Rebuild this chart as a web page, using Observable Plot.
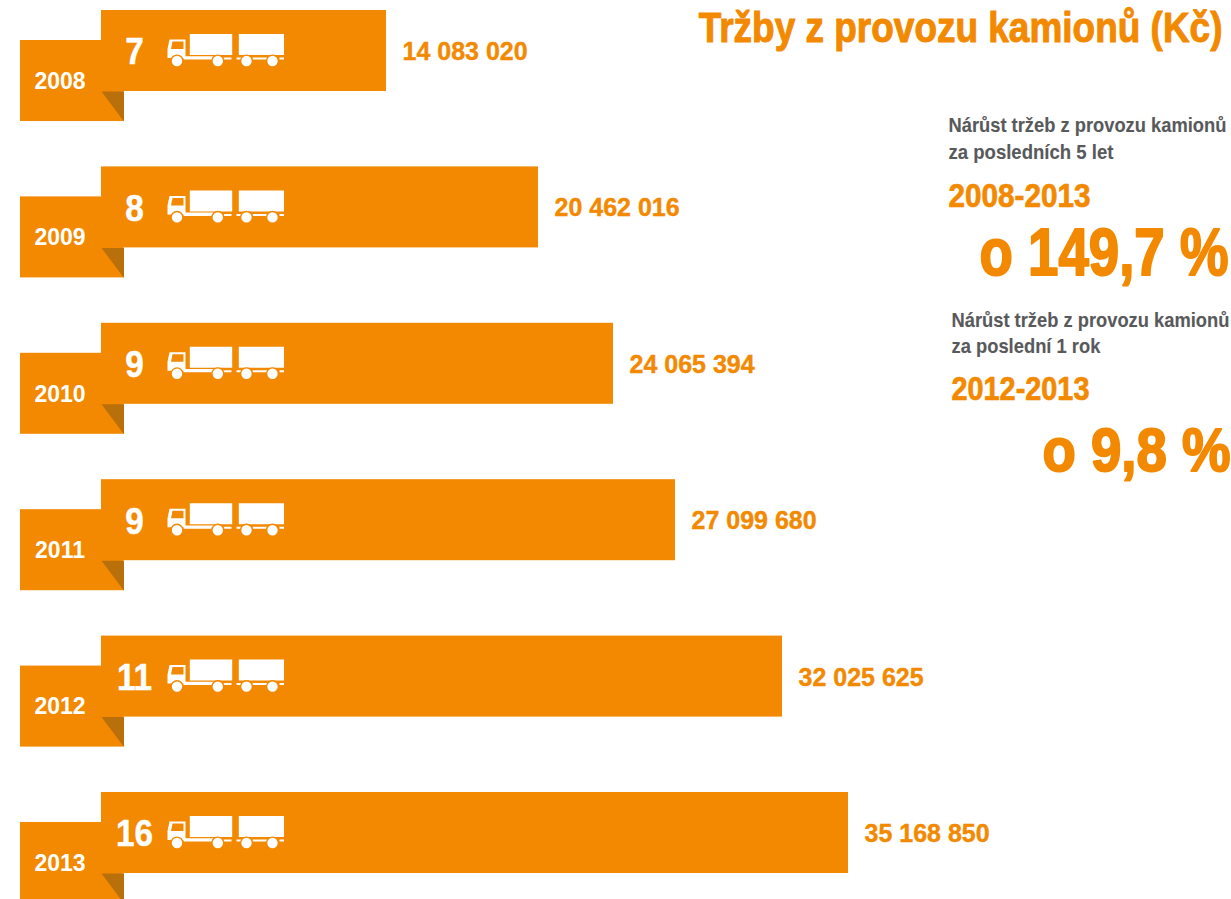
<!DOCTYPE html>
<html><head><meta charset="utf-8">
<script src="https://cdn.jsdelivr.net/npm/d3@7"></script>
<script src="https://cdn.jsdelivr.net/npm/@observablehq/plot@0.6"></script>
<style>html,body{margin:0;background:#fff}svg{display:block}</style>
</head><body><div id="chart"></div>
<script>
const years = ["2008","2009","2010","2011","2012","2013"];
const trucks = [7,8,9,9,11,16];
const revenue = [14083020,20462016,24065394,27099680,32025625,35168850];
const revenueLabels = ["14 083 020","20 462 016","24 065 394","27 099 680","32 025 625","35 168 850"];
const title = "Tržby z provozu kamionů (Kč)";
const noteA = ["Nárůst tržeb z provozu kamionů","za posledních 5 let","2008-2013","o 149,7 %"];
const noteB = ["Nárůst tržeb z provozu kamionů","za poslední 1 rok","2012-2013","o 9,8 %"];

const ORANGE = "#f28900", FOLD = "#b96f0a", GREY = "#58595b";
const FONT = "'Liberation Sans',Arial,sans-serif";
const rows = years.map((year,i)=>({year,count:trucks[i],value:revenue[i],label:revenueLabels[i]}));

// the reference bars are not strictly proportional, so x is a piecewise scale
const xDomain = [0,...revenue];
const xRange = [101,386,538,613,675,782,848];

// target rendered widths: the reference face is condensed, the installed one is not
const textWidths = new Map([
  [title,524],[noteA[1],165],[noteA[2],142],[noteA[3],249],
  [noteB[1],149],[noteB[2],138],[noteB[3],188],[noteA[0],278]
]);

const rect=(c,x,y,w,h)=>{c.moveTo(x,y);c.lineTo(x+w,y);c.lineTo(x+w,y+h);c.lineTo(x,y+h);c.closePath();};
const disc=(c,x,y,r)=>{c.moveTo(x+r,y);c.arc(x,y,r,0,2*Math.PI);c.closePath();};
const wheelAt=[[8.5,10],[49.3,10],[78,10],[104]].map(([x,y])=>[x,y??10]);
const foldSymbol = {draw(c){c.moveTo(0,0);c.lineTo(22.5,0);c.lineTo(22.5,30);c.closePath();}};
const truckSymbol = {draw(c){
  rect(c,21.3,-17,42.4,21); rect(c,70.3,-17,45.2,21);
  c.moveTo(1,-11.5);c.lineTo(17,-11.5);c.lineTo(17,7);c.lineTo(-1,7);c.lineTo(-1,-2);c.closePath();
  c.moveTo(4,-9.5);c.lineTo(2.5,-2);c.lineTo(15,-2);c.lineTo(15,-9.5);c.closePath();
  rect(c,15,5.2,37,3.3); rect(c,55,6.5,8,2); rect(c,68,6.5,6,2); rect(c,84,6.5,15,2); rect(c,111,6.5,4.5,2);
}};
const ringSymbol = {draw(c){wheelAt.forEach(([x,y])=>disc(c,x,y,6.6));}};
const wheelSymbol = {draw(c){wheelAt.forEach(([x,y])=>disc(c,x,y,5.2));}};

function note(text,dx,dy,size,fill,anchor="start",heavy=0.6){
  return Plot.text([text],{text:d=>d,frameAnchor:anchor==="end"?"top-right":"top-left",textAnchor:anchor,
    lineAnchor:"bottom",dx,dy,fontSize:size,fontWeight:"bold",fontFamily:FONT,fill,stroke:fill,strokeWidth:heavy});
}

const chart = Plot.plot({
  width:1231,height:899,margin:0,
  style:{background:"#fff"},
  x:{type:"linear",domain:xDomain,range:xRange,axis:null},
  y:{type:"band",domain:years,range:[10,873],paddingInner:0.482,paddingOuter:0,align:0,round:false,axis:null},
  marks:[
    Plot.barX(rows,{x1:0,x2:0,y:"year",dy:30,insetLeft:-81,insetRight:-22.5,fill:ORANGE}),
    Plot.dot(rows,{x:0,y:"year",dy:40.5,symbol:foldSymbol,fill:FOLD,stroke:null}),
    Plot.barX(rows,{x1:0,x2:"value",y:"year",fill:ORANGE}),
    Plot.dot(rows,{x:0,y:"year",dx:67,symbol:truckSymbol,fill:"#fff",stroke:null}),
    Plot.dot(rows,{x:0,y:"year",dx:67,symbol:ringSymbol,fill:ORANGE,stroke:null}),
    Plot.dot(rows,{x:0,y:"year",dx:67,symbol:wheelSymbol,fill:"#fff",stroke:null}),
    Plot.text(rows,{x:0,y:"year",text:"count",dx:33,dy:1.5,fontSize:37,fontWeight:"bold",fontFamily:FONT,fill:"#fff",stroke:"#fff",strokeWidth:0.5,textAnchor:"middle"}),
    Plot.text(rows,{x:0,y:"year",text:"year",dx:-41.5,dy:30.5,fontSize:23,fontWeight:"bold",fontFamily:FONT,fill:"#fff",textAnchor:"middle"}),
    Plot.text(rows,{x:"value",y:"year",text:"label",dx:16,dy:1,fontSize:25,fontWeight:"bold",fontFamily:FONT,fill:ORANGE,stroke:ORANGE,strokeWidth:0.4,textAnchor:"start"}),
    note(title,-9,41,43,ORANGE,"end",1),
    note(noteA[0],948,131,20,GREY,"start",0.1),
    note(noteA[1],948,158,20,GREY,"start",0.1),
    note(noteA[2],948,206,33,ORANGE,"start",0.7),
    note(noteA[3],-3,274,66,ORANGE,"end",2),
    note(noteB[0],951,326,20,GREY,"start",0.1),
    note(noteB[1],951,352,20,GREY,"start",0.1),
    note(noteB[2],951,399,33,ORANGE,"start",0.7),
    note(noteB[3],-1,470,62,ORANGE,"end",2)
  ]
});
document.getElementById("chart").append(chart);
d3.select(chart).selectAll("text").each(function(){
  const t = this.textContent, w = textWidths.get(t);
  const sx = w ? w/this.getComputedTextLength() : /^\d{1,2}$/.test(t) ? 0.9 : 1;
  if (sx !== 1) this.setAttribute("transform",`${this.getAttribute("transform")||""} scale(${sx},1)`);
});
</script></body></html>
